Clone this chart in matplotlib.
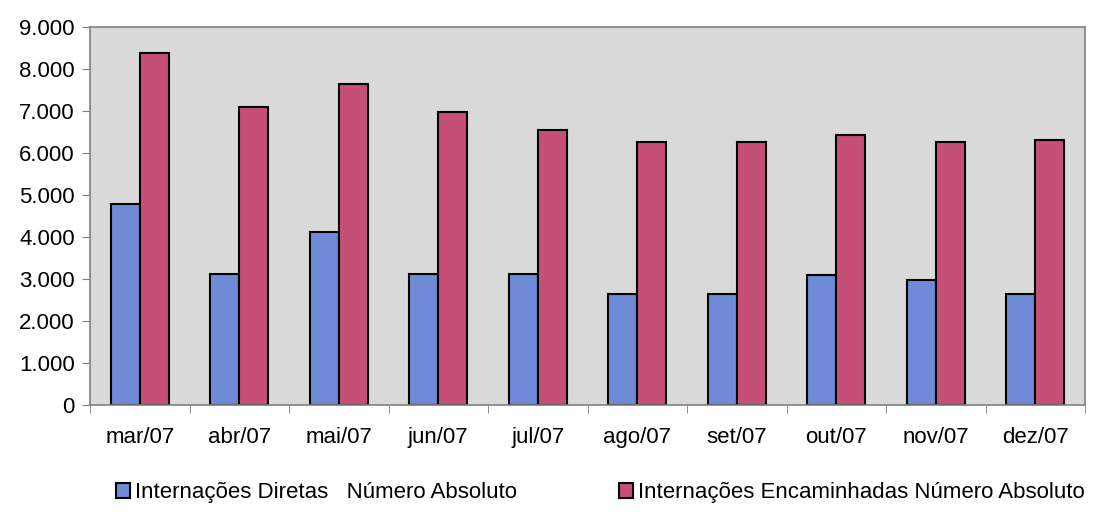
import matplotlib
matplotlib.use('Agg')
import matplotlib.pyplot as plt
import numpy as np
from matplotlib.ticker import FuncFormatter

months = ['mar/07', 'abr/07', 'mai/07', 'jun/07', 'jul/07',
          'ago/07', 'set/07', 'out/07', 'nov/07', 'dez/07']
diretas = [4780, 3130, 4120, 3120, 3120, 2640, 2640, 3100, 2980, 2640]
encaminhadas = [8380, 7100, 7640, 6980, 6550, 6260, 6260, 6430, 6260, 6310]
labels = ['Internações Diretas   Número Absoluto',
          'Internações Encaminhadas Número Absoluto']

plt.rcParams['font.family'] = ['Liberation Sans', 'DejaVu Sans']

fig = plt.figure(figsize=(10.94, 5.26), dpi=100)
ax = fig.add_axes([0.0823, 0.23, 0.9095, 0.7187])
ax.set_facecolor('#d9d9d9')

x = np.arange(len(months))
w = 0.29
b1 = ax.bar(x - w / 2, diretas, w, color='#6f8ad6', edgecolor='black',
            linewidth=1.5, label=labels[0])
b2 = ax.bar(x + w / 2, encaminhadas, w, color='#c64f78', edgecolor='black',
            linewidth=1.5, label=labels[1])

ax.set_xlim(-0.5, len(months) - 0.5)
ax.set_ylim(0, 9000)
ax.set_yticks(range(0, 9001, 1000))
ax.yaxis.set_major_formatter(FuncFormatter(lambda v, p: f'{int(v):,}'.replace(',', '.')))
ax.set_xticks(x)
ax.set_xticklabels(months)
ax.set_xticks(np.arange(-0.5, len(months), 1), minor=True)
ax.tick_params(axis='x', which='major', length=0, pad=16, labelsize=16)
ax.tick_params(axis='x', which='minor', length=6, color='#808080', direction='out')
ax.tick_params(axis='y', length=6, color='#808080', labelsize=16, pad=5)
for s in ax.spines.values():
    s.set_color('#808080')
    s.set_linewidth(1.2)

leg = fig.legend(handles=[b1, b2], loc='center', bbox_to_anchor=(0.549, 0.063),
                 ncol=2, frameon=False, handlelength=0.6, handleheight=0.6,
                 columnspacing=4.6, handletextpad=0.25, fontsize=16)

fig.savefig('out.png', dpi=100, facecolor='white')
